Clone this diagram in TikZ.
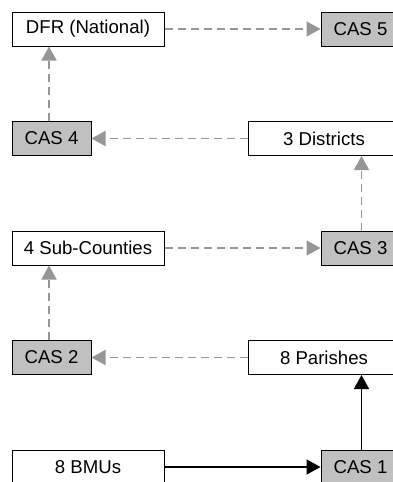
\documentclass[tikz,border=0pt]{standalone}
\usepackage{fontspec}
\setmainfont{Liberation Sans}
\usetikzlibrary{arrows.meta}
\definecolor{casgray}{HTML}{C0C0C0}
\definecolor{linkgray}{HTML}{969696}
\tikzset{
  box/.style={draw=black, line width=1pt, fill=white, minimum height=34pt, inner sep=0pt,
    font=\fontsize{18.6}{22}\selectfont},
  widebox/.style={box, minimum width=152pt},
  casbox/.style={box, fill=casgray, minimum width=79pt},
  dlink/.style={draw=linkgray, line width=1.5pt, dash pattern=on 8pt off 5pt,
    -{Triangle[length=14pt,width=15pt,fill=linkgray]}},
  slink/.style={draw=black, line width=1.5pt,
    -{Triangle[length=14pt,width=15pt,fill=black]}}
}
\begin{document}
\begin{tikzpicture}[x=1pt,y=-1pt]
\clip (0,0) rectangle (393,482);
\useasboundingbox (0,0) rectangle (393,482);
\fill[white] (0,0) rectangle (393,482);
\node[widebox] (dfr) at (88,29) {DFR (National)};
\node[casbox] (cas5) at (360.5,29) {CAS 5};
\node[casbox] (cas4) at (51.5,138.5) {CAS 4};
\node[widebox] (dist) at (324,138.5) {3 Districts};
\node[widebox] (sub) at (88,248) {4 Sub-Counties};
\node[casbox] (cas3) at (360.5,248) {CAS 3};
\node[casbox] (cas2) at (51.5,357.5) {CAS 2};
\node[widebox] (par) at (324,357.5) {8 Parishes};
\node[widebox] (bmu) at (88,467) {8 BMUs};
\node[casbox] (cas1) at (360.5,467) {CAS 1};
\draw[dlink] (dfr) -- (cas5);
\draw[dlink] ([xshift=-2.5pt]cas4.north) -- ([xshift=-2.5pt]cas4.north |- dfr.south);
\draw[dlink] (dist) -- (cas4);
\draw[dlink] ([xshift=1pt]cas3.north) -- ([xshift=1pt]cas3.north |- dist.south);
\draw[dlink] (sub) -- (cas3);
\draw[dlink] ([xshift=-2.5pt]cas2.north) -- ([xshift=-2.5pt]cas2.north |- sub.south);
\draw[dlink] (par) -- (cas2);
\draw[slink] ([xshift=1pt]cas1.north) -- ([xshift=1pt]cas1.north |- par.south);
\draw[slink] (bmu) -- (cas1);
\end{tikzpicture}
\end{document}
